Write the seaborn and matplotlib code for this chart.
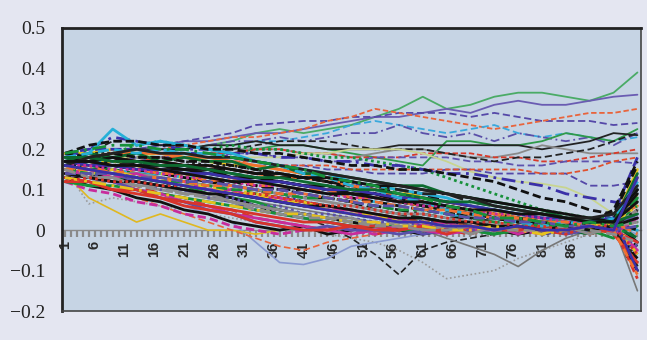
import matplotlib
matplotlib.use("Agg")
import matplotlib.pyplot as plt
import seaborn as sns
from matplotlib.ticker import FixedLocator

# ---------------- data ----------------
steps = [1, 5, 9, 13, 17, 21, 25, 29, 33, 37, 41, 45, 49, 53, 57, 61, 65, 69, 73, 77, 81, 85, 89, 93, 97]
tick_labels = [1, 6, 11, 16, 21, 26, 31, 36, 41, 46, 51, 56, 61, 66, 71, 76, 81, 86, 91, 96]
y_ticks = [-0.2, -0.1, 0, 0.1, 0.2, 0.3, 0.4, 0.5]

band_lines = [
    [0.13, 0.11, 0.10, 0.08, 0.07, 0.05, 0.04, 0.02, 0.01, 0.00, 0.01, -0.01, 0.00, 0.01, 0.00, -0.01, 0.00, 0.01, 0.00, 0.01, -0.01, 0.00, 0.01, 0.02, -0.03],
    [0.15, 0.14, 0.12, 0.11, 0.09, 0.08, 0.06, 0.05, 0.03, 0.02, 0.01, 0.00, 0.01, -0.01, 0.00, 0.01, 0.00, -0.01, 0.01, 0.00, 0.00, 0.01, -0.01, 0.01, 0.05],
    [0.17, 0.16, 0.15, 0.13, 0.12, 0.11, 0.09, 0.08, 0.07, 0.05, 0.04, 0.03, 0.02, 0.01, 0.01, 0.00, 0.01, 0.00, -0.01, 0.01, 0.00, 0.01, 0.00, -0.02, 0.08],
    [0.18, 0.18, 0.17, 0.16, 0.15, 0.14, 0.13, 0.11, 0.10, 0.09, 0.07, 0.06, 0.05, 0.04, 0.03, 0.02, 0.02, 0.01, 0.00, 0.01, 0.01, 0.00, 0.01, 0.01, -0.06],
    [0.16, 0.17, 0.17, 0.16, 0.16, 0.15, 0.14, 0.14, 0.13, 0.12, 0.11, 0.10, 0.08, 0.07, 0.06, 0.05, 0.04, 0.03, 0.02, 0.01, 0.02, 0.01, 0.00, 0.02, 0.12],
    [0.14, 0.13, 0.13, 0.12, 0.11, 0.10, 0.09, 0.08, 0.06, 0.05, 0.04, 0.03, 0.02, 0.01, 0.00, 0.01, 0.00, 0.01, 0.00, -0.01, 0.00, 0.01, 0.01, 0.00, -0.10],
    [0.12, 0.10, 0.09, 0.07, 0.06, 0.04, 0.03, 0.01, 0.00, -0.01, 0.00, 0.01, 0.00, -0.01, 0.00, 0.01, 0.00, 0.00, 0.01, 0.00, -0.01, 0.01, 0.00, 0.01, 0.02],
    [0.19, 0.19, 0.20, 0.19, 0.19, 0.18, 0.17, 0.16, 0.16, 0.15, 0.14, 0.13, 0.12, 0.11, 0.10, 0.08, 0.07, 0.06, 0.05, 0.03, 0.02, 0.02, 0.01, 0.02, 0.15],
    [0.15, 0.15, 0.16, 0.15, 0.14, 0.14, 0.13, 0.12, 0.11, 0.10, 0.09, 0.08, 0.07, 0.05, 0.04, 0.03, 0.02, 0.02, 0.01, 0.00, 0.01, 0.00, 0.01, 0.00, -0.04],
    [0.17, 0.18, 0.18, 0.17, 0.17, 0.16, 0.16, 0.15, 0.14, 0.13, 0.13, 0.12, 0.11, 0.10, 0.09, 0.08, 0.07, 0.06, 0.04, 0.03, 0.03, 0.02, 0.01, 0.03, 0.06],
    [0.14, 0.14, 0.13, 0.13, 0.12, 0.11, 0.11, 0.10, 0.09, 0.08, 0.07, 0.06, 0.05, 0.04, 0.03, 0.03, 0.02, 0.01, 0.01, 0.00, 0.01, 0.00, -0.01, 0.01, -0.02],
    [0.16, 0.15, 0.14, 0.12, 0.11, 0.10, 0.08, 0.07, 0.05, 0.04, 0.03, 0.02, 0.01, 0.00, 0.01, -0.01, 0.00, 0.01, 0.00, 0.00, 0.01, -0.01, 0.00, 0.02, 0.03],
    [0.18, 0.19, 0.19, 0.18, 0.18, 0.17, 0.16, 0.16, 0.15, 0.14, 0.13, 0.12, 0.11, 0.09, 0.08, 0.07, 0.06, 0.05, 0.04, 0.03, 0.02, 0.01, 0.02, 0.01, -0.08],
    [0.13, 0.12, 0.12, 0.11, 0.10, 0.09, 0.08, 0.07, 0.06, 0.05, 0.04, 0.03, 0.02, 0.02, 0.01, 0.00, 0.01, 0.00, 0.00, 0.01, 0.00, 0.00, 0.01, 0.00, 0.04],
    [0.15, 0.16, 0.16, 0.15, 0.15, 0.15, 0.14, 0.13, 0.12, 0.12, 0.11, 0.10, 0.09, 0.08, 0.07, 0.06, 0.05, 0.04, 0.03, 0.02, 0.02, 0.01, 0.02, 0.03, 0.10],
    [0.17, 0.17, 0.16, 0.16, 0.15, 0.13, 0.12, 0.11, 0.10, 0.08, 0.07, 0.06, 0.05, 0.04, 0.03, 0.02, 0.02, 0.01, 0.01, 0.00, 0.01, 0.02, 0.00, 0.01, -0.12],
    [0.12, 0.11, 0.11, 0.10, 0.09, 0.08, 0.07, 0.06, 0.05, 0.04, 0.03, 0.02, 0.01, 0.01, 0.00, 0.00, 0.01, 0.00, -0.01, 0.00, 0.01, 0.00, 0.01, -0.01, 0.01],
    [0.19, 0.20, 0.20, 0.20, 0.19, 0.19, 0.19, 0.18, 0.17, 0.16, 0.15, 0.13, 0.12, 0.10, 0.09, 0.07, 0.06, 0.04, 0.03, 0.02, 0.02, 0.01, 0.02, 0.04, 0.18],
    [0.14, 0.15, 0.15, 0.14, 0.14, 0.13, 0.13, 0.12, 0.12, 0.11, 0.10, 0.09, 0.09, 0.08, 0.07, 0.06, 0.05, 0.04, 0.03, 0.02, 0.02, 0.01, 0.01, 0.01, 0.00],
    [0.16, 0.16, 0.17, 0.17, 0.16, 0.16, 0.15, 0.15, 0.14, 0.13, 0.13, 0.12, 0.11, 0.10, 0.10, 0.09, 0.07, 0.06, 0.05, 0.04, 0.03, 0.02, 0.02, 0.02, 0.07],
    [0.15, 0.13, 0.12, 0.10, 0.09, 0.07, 0.06, 0.04, 0.03, 0.02, 0.01, 0.00, -0.01, 0.00, 0.01, 0.00, -0.01, 0.00, 0.01, 0.00, 0.00, 0.01, 0.00, 0.01, -0.05],
    [0.18, 0.17, 0.17, 0.16, 0.14, 0.13, 0.12, 0.10, 0.09, 0.08, 0.06, 0.05, 0.04, 0.03, 0.02, 0.01, 0.01, 0.00, 0.01, 0.00, 0.01, 0.00, 0.01, 0.00, 0.09],
    [0.13, 0.13, 0.14, 0.13, 0.13, 0.12, 0.12, 0.11, 0.10, 0.09, 0.08, 0.08, 0.07, 0.06, 0.05, 0.04, 0.03, 0.03, 0.02, 0.01, 0.01, 0.00, 0.01, 0.00, -0.07],
    [0.17, 0.18, 0.19, 0.19, 0.19, 0.18, 0.18, 0.17, 0.16, 0.15, 0.14, 0.13, 0.11, 0.10, 0.08, 0.07, 0.05, 0.04, 0.03, 0.02, 0.01, 0.02, 0.01, 0.03, 0.13],
    [0.16, 0.15, 0.15, 0.14, 0.13, 0.12, 0.10, 0.09, 0.08, 0.07, 0.06, 0.05, 0.04, 0.03, 0.02, 0.02, 0.01, 0.01, 0.00, 0.00, 0.01, 0.00, 0.01, 0.02, -0.02],
    [0.14, 0.13, 0.12, 0.10, 0.08, 0.07, 0.05, 0.04, 0.02, 0.01, 0.00, 0.01, 0.00, 0.00, -0.01, 0.00, 0.01, 0.00, 0.00, 0.01, -0.01, 0.00, 0.00, 0.01, 0.04],
    [0.19, 0.18, 0.18, 0.17, 0.17, 0.16, 0.15, 0.14, 0.13, 0.12, 0.11, 0.10, 0.09, 0.08, 0.07, 0.06, 0.05, 0.03, 0.03, 0.02, 0.01, 0.01, 0.02, 0.01, -0.09],
    [0.15, 0.14, 0.14, 0.14, 0.13, 0.12, 0.11, 0.11, 0.10, 0.09, 0.08, 0.07, 0.06, 0.05, 0.04, 0.04, 0.03, 0.02, 0.02, 0.01, 0.01, 0.01, 0.00, 0.01, 0.05],
    [0.17, 0.16, 0.16, 0.15, 0.14, 0.13, 0.12, 0.12, 0.11, 0.10, 0.10, 0.09, 0.08, 0.07, 0.06, 0.05, 0.04, 0.04, 0.03, 0.02, 0.02, 0.01, 0.01, 0.02, 0.00],
    [0.13, 0.12, 0.10, 0.09, 0.08, 0.06, 0.05, 0.04, 0.02, 0.01, 0.00, 0.00, 0.01, 0.00, 0.00, 0.01, 0.00, 0.00, 0.01, 0.00, 0.00, -0.01, 0.01, 0.00, -0.03],
    [0.16, 0.17, 0.19, 0.21, 0.22, 0.21, 0.20, 0.21, 0.20, 0.20, 0.19, 0.18, 0.18, 0.17, 0.16, 0.15, 0.13, 0.11, 0.09, 0.07, 0.05, 0.04, 0.03, 0.03, 0.06],
    [0.18, 0.20, 0.23, 0.22, 0.21, 0.20, 0.20, 0.19, 0.19, 0.18, 0.18, 0.17, 0.17, 0.16, 0.16, 0.15, 0.14, 0.14, 0.13, 0.12, 0.11, 0.09, 0.08, 0.07, 0.06],
    [0.17, 0.19, 0.25, 0.21, 0.22, 0.21, 0.20, 0.19, 0.17, 0.16, 0.15, 0.14, 0.12, 0.11, 0.10, 0.09, 0.08, 0.06, 0.05, 0.04, 0.03, 0.02, 0.02, 0.03, 0.11],
    [0.19, 0.21, 0.22, 0.22, 0.21, 0.21, 0.20, 0.20, 0.19, 0.19, 0.18, 0.17, 0.16, 0.16, 0.15, 0.15, 0.14, 0.13, 0.12, 0.10, 0.08, 0.07, 0.05, 0.04, 0.16],
    [0.14, 0.15, 0.13, 0.14, 0.12, 0.12, 0.10, 0.10, 0.08, 0.08, 0.06, 0.05, 0.05, 0.03, 0.03, 0.01, 0.02, 0.00, 0.01, -0.01, 0.01, 0.00, 0.02, -0.01, 0.03],
    [0.16, 0.14, 0.15, 0.13, 0.13, 0.11, 0.11, 0.09, 0.09, 0.07, 0.07, 0.05, 0.04, 0.04, 0.02, 0.02, 0.01, 0.01, 0.00, 0.01, -0.01, 0.01, 0.00, 0.02, -0.06],
    [0.18, 0.17, 0.18, 0.16, 0.16, 0.15, 0.15, 0.13, 0.13, 0.12, 0.11, 0.11, 0.09, 0.09, 0.07, 0.07, 0.05, 0.05, 0.03, 0.03, 0.02, 0.02, 0.01, 0.03, 0.10],
    [0.15, 0.16, 0.14, 0.15, 0.14, 0.14, 0.12, 0.13, 0.11, 0.11, 0.10, 0.10, 0.08, 0.08, 0.07, 0.06, 0.05, 0.05, 0.04, 0.03, 0.02, 0.02, 0.01, 0.02, -0.01],
    [0.17, 0.19, 0.18, 0.19, 0.17, 0.18, 0.17, 0.17, 0.15, 0.16, 0.14, 0.14, 0.13, 0.12, 0.11, 0.11, 0.09, 0.08, 0.07, 0.06, 0.05, 0.03, 0.03, 0.02, 0.14],
    [0.13, 0.14, 0.12, 0.12, 0.10, 0.10, 0.08, 0.08, 0.06, 0.06, 0.04, 0.04, 0.03, 0.02, 0.02, 0.01, 0.01, 0.00, 0.01, 0.00, 0.01, -0.01, 0.01, 0.00, -0.04],
    [0.16, 0.17, 0.16, 0.17, 0.16, 0.16, 0.15, 0.15, 0.14, 0.14, 0.13, 0.12, 0.12, 0.11, 0.10, 0.09, 0.09, 0.07, 0.06, 0.05, 0.04, 0.03, 0.02, 0.01, 0.05],
    [0.14, 0.13, 0.13, 0.11, 0.11, 0.09, 0.09, 0.07, 0.06, 0.05, 0.04, 0.03, 0.03, 0.01, 0.02, 0.00, 0.01, -0.01, 0.01, 0.00, 0.00, 0.01, -0.01, 0.01, 0.02],
    [0.19, 0.18, 0.19, 0.18, 0.18, 0.17, 0.17, 0.16, 0.15, 0.14, 0.13, 0.12, 0.10, 0.09, 0.08, 0.06, 0.05, 0.04, 0.03, 0.02, 0.02, 0.01, 0.02, 0.05, 0.17],
    [0.12, 0.12, 0.10, 0.10, 0.08, 0.07, 0.06, 0.05, 0.04, 0.03, 0.02, 0.02, 0.01, 0.01, 0.00, 0.01, -0.01, 0.01, 0.00, 0.00, 0.01, 0.00, 0.01, -0.01, -0.08],
    [0.15, 0.14, 0.14, 0.13, 0.12, 0.12, 0.11, 0.10, 0.10, 0.09, 0.08, 0.08, 0.07, 0.06, 0.05, 0.05, 0.04, 0.03, 0.02, 0.02, 0.01, 0.01, 0.00, 0.01, 0.08],
    [0.17, 0.16, 0.16, 0.15, 0.15, 0.14, 0.14, 0.13, 0.12, 0.12, 0.11, 0.10, 0.10, 0.09, 0.08, 0.08, 0.07, 0.06, 0.05, 0.04, 0.03, 0.03, 0.02, 0.03, -0.10],
    [0.18, 0.19, 0.20, 0.19, 0.20, 0.19, 0.19, 0.18, 0.17, 0.16, 0.14, 0.13, 0.11, 0.10, 0.08, 0.07, 0.05, 0.04, 0.03, 0.02, 0.01, 0.02, 0.01, 0.03, 0.12],
    [0.14, 0.13, 0.12, 0.12, 0.11, 0.10, 0.09, 0.09, 0.08, 0.07, 0.06, 0.06, 0.05, 0.04, 0.03, 0.03, 0.02, 0.02, 0.01, 0.01, 0.00, 0.01, 0.00, 0.01, 0.03],
    [0.16, 0.16, 0.15, 0.15, 0.14, 0.13, 0.13, 0.12, 0.11, 0.11, 0.10, 0.09, 0.08, 0.08, 0.07, 0.06, 0.06, 0.05, 0.04, 0.04, 0.03, 0.02, 0.02, 0.01, -0.05],
    [0.13, 0.12, 0.11, 0.10, 0.09, 0.08, 0.07, 0.06, 0.05, 0.04, 0.04, 0.03, 0.02, 0.02, 0.01, 0.01, 0.00, 0.00, 0.01, 0.00, -0.01, 0.00, 0.01, 0.02, 0.06],
    [0.17, 0.17, 0.18, 0.17, 0.17, 0.16, 0.16, 0.15, 0.14, 0.14, 0.13, 0.13, 0.12, 0.11, 0.11, 0.10, 0.09, 0.08, 0.07, 0.06, 0.05, 0.04, 0.03, 0.02, 0.09],
    [0.15, 0.15, 0.14, 0.13, 0.13, 0.12, 0.11, 0.11, 0.10, 0.09, 0.09, 0.08, 0.07, 0.07, 0.06, 0.05, 0.05, 0.04, 0.03, 0.03, 0.02, 0.02, 0.01, 0.00, -0.11],
    [0.18, 0.18, 0.17, 0.17, 0.16, 0.16, 0.15, 0.14, 0.13, 0.13, 0.12, 0.11, 0.10, 0.10, 0.09, 0.08, 0.07, 0.07, 0.06, 0.05, 0.04, 0.03, 0.02, 0.02, 0.04],
    [0.14, 0.14, 0.14, 0.13, 0.13, 0.12, 0.12, 0.11, 0.10, 0.10, 0.09, 0.08, 0.07, 0.06, 0.06, 0.05, 0.04, 0.03, 0.03, 0.02, 0.02, 0.01, 0.01, 0.00, 0.01],
    [0.16, 0.18, 0.19, 0.20, 0.19, 0.19, 0.18, 0.18, 0.17, 0.16, 0.15, 0.14, 0.13, 0.12, 0.11, 0.10, 0.09, 0.08, 0.06, 0.05, 0.04, 0.03, 0.03, 0.04, 0.11],
    [0.15, 0.13, 0.13, 0.11, 0.10, 0.09, 0.08, 0.07, 0.05, 0.04, 0.03, 0.03, 0.02, 0.01, 0.01, 0.00, 0.00, 0.01, 0.00, 0.00, 0.00, 0.01, 0.00, -0.01, -0.03],
    [0.17, 0.17, 0.16, 0.16, 0.15, 0.14, 0.13, 0.12, 0.12, 0.11, 0.10, 0.09, 0.09, 0.08, 0.07, 0.07, 0.06, 0.05, 0.05, 0.04, 0.04, 0.03, 0.02, 0.02, 0.07],
    [0.12, 0.13, 0.12, 0.12, 0.11, 0.11, 0.10, 0.09, 0.09, 0.08, 0.07, 0.06, 0.06, 0.05, 0.04, 0.04, 0.03, 0.02, 0.02, 0.01, 0.01, 0.00, 0.01, 0.01, -0.06],
    [0.19, 0.20, 0.21, 0.21, 0.20, 0.20, 0.19, 0.18, 0.17, 0.16, 0.15, 0.13, 0.12, 0.11, 0.09, 0.08, 0.06, 0.05, 0.03, 0.03, 0.02, 0.01, 0.02, 0.01, 0.02],
    [0.16, 0.15, 0.14, 0.13, 0.12, 0.11, 0.10, 0.09, 0.08, 0.07, 0.06, 0.05, 0.04, 0.03, 0.02, 0.02, 0.01, 0.01, 0.00, 0.01, 0.00, 0.00, 0.01, 0.00, 0.13],
]

high_lines = [
    [0.15, 0.16, 0.17, 0.18, 0.19, 0.20, 0.21, 0.22, 0.24, 0.25, 0.24, 0.25, 0.26, 0.28, 0.30, 0.33, 0.30, 0.31, 0.33, 0.34, 0.34, 0.33, 0.32, 0.34, 0.39],
    [0.17, 0.18, 0.19, 0.20, 0.21, 0.22, 0.22, 0.23, 0.24, 0.24, 0.25, 0.26, 0.27, 0.28, 0.28, 0.29, 0.30, 0.29, 0.31, 0.32, 0.31, 0.31, 0.32, 0.33, 0.335],
    [0.16, 0.18, 0.19, 0.20, 0.21, 0.22, 0.23, 0.24, 0.26, 0.265, 0.27, 0.27, 0.28, 0.28, 0.29, 0.29, 0.29, 0.28, 0.29, 0.28, 0.27, 0.27, 0.27, 0.26, 0.265],
    [0.15, 0.16, 0.17, 0.19, 0.20, 0.21, 0.22, 0.23, 0.23, 0.24, 0.25, 0.27, 0.28, 0.30, 0.29, 0.28, 0.27, 0.26, 0.25, 0.26, 0.27, 0.28, 0.29, 0.29, 0.30],
    [0.16, 0.17, 0.18, 0.19, 0.19, 0.20, 0.21, 0.21, 0.22, 0.22, 0.23, 0.24, 0.26, 0.27, 0.26, 0.25, 0.24, 0.25, 0.26, 0.24, 0.23, 0.24, 0.23, 0.22, 0.23],
    [0.17, 0.18, 0.18, 0.19, 0.20, 0.20, 0.21, 0.22, 0.22, 0.23, 0.22, 0.23, 0.24, 0.24, 0.26, 0.24, 0.23, 0.24, 0.22, 0.24, 0.23, 0.22, 0.23, 0.21, 0.24],
    [0.14, 0.15, 0.16, 0.17, 0.18, 0.18, 0.19, 0.19, 0.20, 0.21, 0.21, 0.20, 0.19, 0.18, 0.17, 0.16, 0.22, 0.22, 0.21, 0.21, 0.22, 0.24, 0.23, 0.22, 0.25],
    [0.17, 0.18, 0.19, 0.20, 0.20, 0.20, 0.21, 0.21, 0.22, 0.21, 0.21, 0.20, 0.20, 0.20, 0.21, 0.21, 0.21, 0.21, 0.21, 0.21, 0.20, 0.21, 0.22, 0.24, 0.235],
    [0.15, 0.16, 0.17, 0.18, 0.18, 0.19, 0.19, 0.20, 0.20, 0.20, 0.19, 0.19, 0.18, 0.19, 0.20, 0.20, 0.19, 0.18, 0.18, 0.19, 0.21, 0.20, 0.19, 0.19, 0.19],
    [0.16, 0.17, 0.18, 0.19, 0.19, 0.19, 0.19, 0.19, 0.20, 0.20, 0.19, 0.19, 0.18, 0.18, 0.18, 0.19, 0.19, 0.19, 0.18, 0.18, 0.17, 0.17, 0.18, 0.19, 0.20],
    [0.15, 0.16, 0.17, 0.17, 0.18, 0.18, 0.18, 0.19, 0.19, 0.18, 0.18, 0.17, 0.17, 0.18, 0.18, 0.18, 0.18, 0.17, 0.17, 0.16, 0.16, 0.17, 0.17, 0.17, 0.165],
    [0.17, 0.19, 0.22, 0.22, 0.21, 0.21, 0.20, 0.20, 0.21, 0.22, 0.22, 0.22, 0.21, 0.20, 0.20, 0.20, 0.19, 0.18, 0.17, 0.18, 0.18, 0.19, 0.20, 0.22, 0.24],
    [0.16, 0.17, 0.18, 0.18, 0.19, 0.19, 0.19, 0.18, 0.18, 0.18, 0.19, 0.19, 0.20, 0.20, 0.20, 0.19, 0.17, 0.145, 0.13, 0.12, 0.115, 0.105, 0.08, 0.04, 0.03],
    [0.16, 0.17, 0.17, 0.18, 0.18, 0.18, 0.17, 0.17, 0.16, 0.16, 0.16, 0.15, 0.15, 0.14, 0.14, 0.14, 0.15, 0.15, 0.14, 0.14, 0.14, 0.14, 0.11, 0.11, 0.12],
    [0.16, 0.17, 0.17, 0.17, 0.18, 0.18, 0.18, 0.17, 0.17, 0.16, 0.16, 0.16, 0.15, 0.15, 0.15, 0.15, 0.15, 0.15, 0.15, 0.15, 0.14, 0.14, 0.15, 0.17, 0.18],
]

low_lines = [
    [0.15, 0.065, 0.08, 0.07, 0.06, 0.05, 0.04, 0.03, 0.02, 0.01, 0.00, -0.01, -0.02, -0.03, -0.05, -0.08, -0.12, -0.11, -0.10, -0.07, -0.05, -0.03, -0.01, 0.00, -0.02],
    [0.16, 0.15, 0.14, 0.13, 0.12, 0.10, 0.09, 0.07, 0.06, 0.04, 0.03, 0.01, -0.02, -0.06, -0.11, -0.05, -0.03, -0.02, -0.01, 0.00, 0.01, 0.00, 0.01, 0.00, 0.03],
    [0.14, 0.13, 0.12, 0.10, 0.08, 0.06, 0.04, 0.02, -0.03, -0.08, -0.085, -0.07, -0.04, -0.03, -0.02, -0.01, 0.00, 0.01, 0.00, 0.00, 0.01, 0.00, 0.00, 0.01, -0.01],
    [0.14, 0.08, 0.05, 0.02, 0.04, 0.02, 0.00, 0.00, -0.01, 0.00, 0.01, 0.00, -0.01, 0.00, 0.01, 0.00, 0.00, 0.01, 0.00, -0.01, 0.00, 0.01, 0.00, 0.00, 0.02],
    [0.15, 0.14, 0.13, 0.12, 0.11, 0.10, 0.09, 0.08, 0.07, 0.06, 0.05, 0.04, 0.03, 0.02, 0.01, 0.00, -0.02, -0.04, -0.06, -0.09, -0.05, -0.02, 0.00, 0.01, -0.15],
    [0.13, 0.12, 0.10, 0.08, 0.06, 0.04, 0.02, 0.00, -0.02, -0.04, -0.05, -0.03, -0.02, -0.01, 0.00, 0.01, 0.00, 0.00, -0.01, 0.00, 0.01, 0.00, -0.01, 0.00, 0.01],
]

# ---------------- style ----------------
palette = ["#111111", "#d8342a", "#17913a", "#3a30a8", "#25b0d8", "#111111", "#c82c9c",
           "#e6c21e", "#111111", "#f07030", "#0d6b30", "#5a50aa", "#222222", "#8c8c8c"]
high_colors = ["#4aab66", "#6a5cb2", "#5548a8", "#e8643c", "#3aa8dc", "#5a4fa8",
               "#2f9a4a", "#222222", "#8a8a8a", "#d83a2a", "#5e52ae", "#222222",
               "#c8d490", "#5548a8", "#e0502e"]
low_colors = ["#9a9a9a", "#222222", "#8a9ad0", "#e0b820", "#777777", "#e8643c"]
styles = ["-", (0, (4, 2)), "-", (0, (1, 1.2)), (0, (5, 2, 1, 2)), "-", (0, (3, 1.5)), "-", (0, (4, 1.5))]
high_styles = ["-", "-", (0, (4, 2)), (0, (3, 1.5)), (0, (4, 2)), (0, (5, 2, 1, 2)),
               "-", "-", "-", (0, (3, 1.5)), (0, (4, 2)), (0, (4, 2)), "-", (0, (4, 2)), (0, (3, 1.5))]
low_styles = [(0, (1, 1.5)), (0, (4, 2)), "-", "-", "-", (0, (4, 2))]

bg_outer = "#e4e6f1"
bg_plot = "#c6d4e4"

sns.set_style("white")
plt.rcParams["font.family"] = ["Liberation Serif", "DejaVu Serif"]
plt.rcParams["axes.unicode_minus"] = True

fig = plt.figure(figsize=(6.47, 3.40), dpi=100, facecolor=bg_outer)
ax = fig.add_axes([62 / 647, 1 - 311 / 340, (641 - 62) / 647, (311 - 28) / 340])
ax.set_facecolor(bg_plot)

for i, vals in enumerate(low_lines):
    sns.lineplot(x=steps, y=vals, ax=ax, color=low_colors[i],
                 linestyle=low_styles[i], lw=1.2, legend=False)
for i, vals in enumerate(high_lines):
    sns.lineplot(x=steps, y=vals, ax=ax, color=high_colors[i],
                 linestyle=high_styles[i], lw=1.3, legend=False)
for i, vals in enumerate(band_lines):
    sns.lineplot(x=steps, y=vals, ax=ax, color=palette[i % len(palette)],
                 linestyle=styles[i % len(styles)], lw=2.0, legend=False)

ax.set_xlim(0.5, 97.6)
ax.set_ylim(-0.2, 0.5)
ax.set_yticks(y_ticks)
ax.set_yticklabels(["\u22120.2", "\u22120.1", "0", "0.1", "0.2", "0.3", "0.4", "0.5"], fontsize=14)
ax.tick_params(axis="y", direction="out", length=9, width=1.2, color="#444444", pad=3, labelcolor="#222222")
ax.set_xticks([])
ax.set_xlabel("")
ax.set_ylabel("")

for side, lw, col in [("left", 2.0, "#222222"), ("top", 2.0, "#222222"),
                      ("right", 1.2, "#444444"), ("bottom", 1.2, "#444444")]:
    ax.spines[side].set_visible(True)
    ax.spines[side].set_linewidth(lw)
    ax.spines[side].set_color(col)

# x axis drawn along y = 0
sec = ax.secondary_xaxis(0.2 / 0.7)
sec.xaxis.set_major_locator(FixedLocator(tick_labels))
sec.xaxis.set_minor_locator(FixedLocator(list(range(1, 98))))
sec.set_xticklabels([str(t) for t in tick_labels], rotation=90,
                    fontsize=10.5, fontweight="bold", family="Liberation Sans", color="#2a2a2a")
sec.tick_params(axis="x", which="both", direction="out", length=5, width=1.6,
                color="#8a8a8a", pad=3)
sec.spines["bottom"].set_color("#8a8a8a")
sec.spines["bottom"].set_linewidth(1.0)

fig.savefig("out.png", dpi=100, facecolor=bg_outer)
